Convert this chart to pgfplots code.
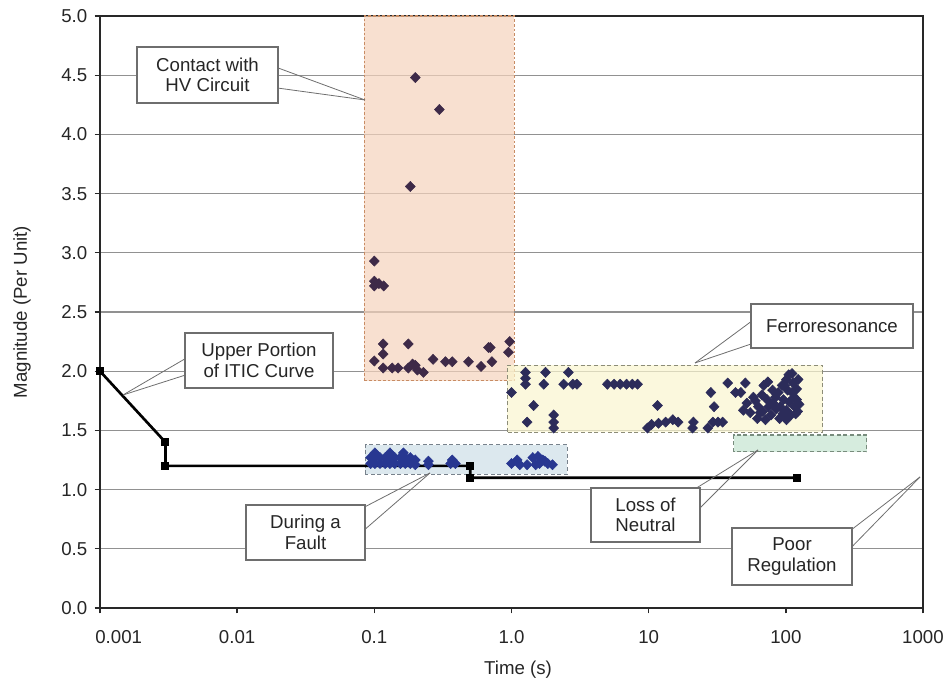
\documentclass[border=0pt]{standalone}
\usepackage{fontspec}
\setmainfont{Liberation Sans}
\usepackage{pgfplots}
\pgfplotsset{compat=1.18}
\usetikzlibrary{calc}
\definecolor{gridc}{RGB}{145,145,145}
\definecolor{axc}{RGB}{40,40,40}
\definecolor{orfill}{RGB}{245,211,188}
\definecolor{orline}{RGB}{200,140,100}
\definecolor{yefill}{RGB}{250,245,207}
\definecolor{yeline}{RGB}{140,140,120}
\definecolor{blfill}{RGB}{205,222,231}
\definecolor{blline}{RGB}{120,130,140}
\definecolor{grfill}{RGB}{196,228,208}
\definecolor{grline}{RGB}{120,140,125}
\definecolor{hvpt}{RGB}{62,42,72}
\definecolor{frpt}{RGB}{44,44,90}
\definecolor{flpt}{RGB}{40,55,145}
\definecolor{callc}{RGB}{110,110,110}
\begin{document}
\begin{tikzpicture}
\begin{axis}[
  at={(0,0)}, anchor=south west,
  scale only axis, width=617.25pt, height=444pt,
  xmode=log, log basis x=10,
  xmin=0.001, xmax=1000, ymin=0, ymax=5,
  xtick={0.001,0.01,0.1,1,10,100,1000},
  xticklabels={\hspace*{28pt}0.001,0.01,0.1,1.0,10,100,1000},
  xminorticks=false,
  ytick={0,0.5,1,1.5,2,2.5,3,3.5,4,4.5,5},
  /pgf/number format/assume math mode=true,
  yticklabel style={/pgf/number format/fixed,/pgf/number format/fixed zerofill,/pgf/number format/precision=1, xshift=-2pt},
  xticklabel style={yshift=-9pt},
  ticklabel style={font=\fontsize{14}{16}\selectfont, text=black!85},
  label style={font=\fontsize{14}{16}\selectfont, text=black!85},
  xlabel={Time (s)}, ylabel={Magnitude (Per Unit)},
  xlabel style={at={(axis description cs:0.508,-0.1047)}, anchor=center},
  ylabel style={at={(axis description cs:-0.0948,0.5)}, anchor=center, rotate=0},
  ymajorgrids, grid style={gridc, line width=0.9pt},
  tick align=outside, major tick length=4pt,
  xtick pos=left, ytick pos=left,
  axis line style={axc, line width=1.1pt},
  tick style={axc, line width=1pt},
  clip=false,
]
% shaded regions
\draw[fill=orfill, fill opacity=0.7, draw=orline, line width=0.8pt, dash pattern=on 2pt off 1.5pt] (axis cs:0.0846,1.92) rectangle (axis cs:1.05,5);
\draw[fill=yefill, fill opacity=0.7, draw=yeline, line width=0.8pt, dash pattern=on 3pt off 2pt] (axis cs:0.935,1.486) rectangle (axis cs:186,2.05);
\draw[fill=grfill, fill opacity=0.7, draw=grline, line width=0.8pt, dash pattern=on 3pt off 2pt] (axis cs:41.7,1.318) rectangle (axis cs:390,1.461);
\draw[fill=blfill, fill opacity=0.7, draw=blline, line width=0.8pt, dash pattern=on 3pt off 2pt] (axis cs:0.086,1.13) rectangle (axis cs:2.56,1.377);
% ITIC curve
\addplot[black, line width=2pt, mark=square*, mark size=2pt, mark options={solid}] coordinates {
(0.001,2.0) (0.003,1.4) (0.003,1.2) (0.5,1.2) (0.5,1.1) (120,1.1)};
% Contact with HV circuit
\addplot[only marks, mark=diamond*, mark size=3.8pt, mark options={xscale=1.3, fill=hvpt, draw=hvpt}] coordinates {
(0.199,4.48) (0.298,4.21) (0.183,3.56) (0.100,2.93) (0.100,2.76) (0.100,2.72) (0.108,2.74) (0.117,2.72)
(0.116,2.23) (0.116,2.145) (0.100,2.086) (0.116,2.027) (0.135,2.027) (0.149,2.027) (0.177,2.23) (0.177,2.027)
(0.199,2.05) (0.206,2.01) (0.228,1.99) (0.19,2.06) (0.268,2.10) (0.33,2.08) (0.37,2.08) (0.486,2.08) (0.60,2.04)
(0.68,2.20) (0.72,2.08) (0.70,2.20) (0.97,2.25) (0.95,2.16)};
% Ferroresonance
\addplot[only marks, mark=diamond*, mark size=3.8pt, mark options={xscale=1.3, fill=frpt, draw=frpt}] coordinates {
(1.0,1.82) (1.265,1.99) (1.265,1.94) (1.265,1.89) (1.77,1.99) (1.72,1.89) (2.6,1.99) (2.4,1.89) (2.8,1.89) (3.0,1.89)
(1.45,1.71) (1.3,1.57) (2.03,1.63) (2.03,1.57) (2.03,1.52)
(5.0,1.89) (5.6,1.89) (6.2,1.89) (6.9,1.89) (7.6,1.89) (8.3,1.89)
(11.6,1.71) (9.8,1.52) (10.5,1.55) (11.8,1.56) (13.3,1.57) (15.0,1.59) (16.4,1.57) (21.2,1.57) (20.9,1.52)
(28.4,1.82) (30,1.70) (29.4,1.57) (32,1.57) (27,1.52) (34.6,1.57) (37.7,1.90) (43,1.82) (47,1.82) (50.7,1.90)
(52,1.73) (58,1.78) (63,1.70) (49,1.67) (55,1.65) (65,1.65) (69,1.88) (74,1.91) (80,1.84) (73,1.76) (81,1.73)
(88,1.82) (94,1.88) (101,1.93) (111,1.98) (103,1.84) (111,1.82) (120,1.76) (116,1.70) (101,1.67) (91,1.70)
(78,1.63) (71,1.59) (101,1.59) (109,1.63) (62,1.60) (123,1.93) (120,1.85) (115,1.78) (96,1.76) (85,1.68)
(118,1.64) (106,1.74) (60,1.75) (67,1.80) (75,1.70) (84,1.78) (90,1.60) (98,1.88) (105,1.97) (113,1.90)
(125,1.72) (122,1.66) (68,1.66) (95,1.64)};
% During a fault
\addplot[only marks, mark=diamond*, mark size=3.8pt, mark options={xscale=1.3, fill=flpt, draw=flpt}] coordinates {
(0.094,1.27) (0.101,1.27) (0.110,1.27) (0.120,1.27) (0.130,1.27) (0.141,1.27) (0.155,1.27) (0.168,1.27) (0.183,1.27) (0.199,1.25)
(0.094,1.22) (0.101,1.22) (0.110,1.22) (0.120,1.22) (0.130,1.22) (0.141,1.22) (0.155,1.22) (0.168,1.22) (0.183,1.22) (0.199,1.21)
(0.101,1.31) (0.130,1.31) (0.163,1.31)
(0.248,1.21) (0.248,1.24) (0.37,1.25) (0.36,1.22) (0.39,1.22)
(1.0,1.22) (1.1,1.25) (1.15,1.21) (1.3,1.21) (1.43,1.27) (1.5,1.21) (1.56,1.28) (1.6,1.22) (1.69,1.25) (1.75,1.24) (1.84,1.22) (1.99,1.21)};
\end{axis}
\begin{scope}[shift={($(current axis.south west)+(-75pt,456pt)$)}, x=0.75pt, y=-0.75pt]
\tikzset{callline/.style={callc, line width=0.6pt},
 callbox/.style={draw=callc, line width=0.8pt, fill=white, align=center, inner sep=1pt, font=\fontsize{14}{15.5}\selectfont, text=black!85}}
% Contact
\draw[callline] (270,65) -- (365,100); \draw[callline] (270,87) -- (365,100);
\node[callbox, minimum width=105.75pt, minimum height=42pt] at (207.5,75) {Contact with\\HV Circuit};
% Upper portion
\draw[callline] (195,353) -- (123,395); \draw[callline] (195,372) -- (123,395);
\node[callbox, minimum width=111pt, minimum height=41.25pt] at (259,360.5) {Upper Portion\\of ITIC Curve};
% During a fault
\draw[callline] (355,512) -- (430,473); \draw[callline] (355,538) -- (430,473);
\node[callbox, minimum width=89.25pt, minimum height=41.25pt] at (305.5,532.5) {During a\\Fault};
% Loss of neutral
\draw[callline] (690,492) -- (758,450); \draw[callline] (690,518) -- (758,450);
\node[callbox, minimum width=81.75pt, minimum height=40.5pt] at (645.5,515) {Loss of\\Neutral};
% Ferroresonance
\draw[callline] (760,315) -- (695,363); \draw[callline] (760,341) -- (695,363);
\node[callbox, minimum width=121.5pt, minimum height=33pt] at (832,326) {Ferroresonance};
% Poor regulation
\draw[callline] (842,537) -- (920,477); \draw[callline] (842,557) -- (920,477);
\node[callbox, minimum width=90pt, minimum height=42.75pt] at (792,556.5) {Poor\\Regulation};
\end{scope}
\pgfresetboundingbox
\path[use as bounding box] ($(current axis.south west)+(-75pt,-56.25pt)$) rectangle ($(current axis.north east)+(20.25pt,12pt)$);
\end{tikzpicture}
\end{document}
